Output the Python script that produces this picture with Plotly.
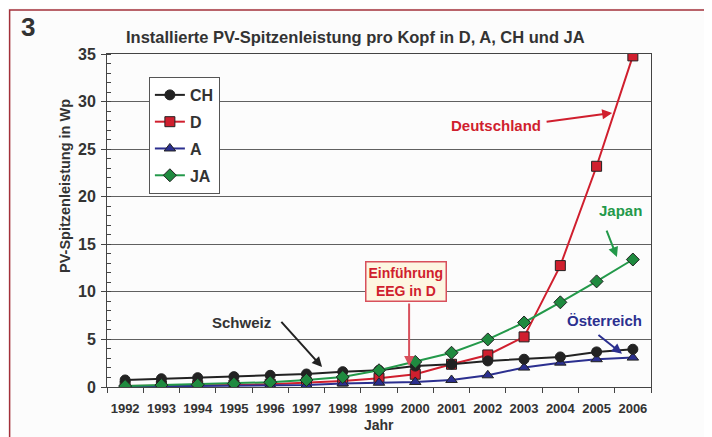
import plotly.graph_objects as go

# Installed PV peak power per capita (Wp)
years = [1992, 1993, 1994, 1995, 1996, 1997, 1998, 1999, 2000, 2001, 2002, 2003, 2004, 2005, 2006]
ch = [0.74, 0.87, 0.98, 1.09, 1.23, 1.37, 1.61, 1.76, 2.2, 2.4, 2.74, 2.92, 3.16, 3.69, 3.97]
de = [0.1, 0.12, 0.15, 0.2, 0.3, 0.46, 0.63, 0.92, 1.34, 2.39, 3.37, 5.27, 12.76, 23.2, 34.8]
at = [0.05, 0.07, 0.1, 0.12, 0.15, 0.2, 0.38, 0.45, 0.53, 0.74, 1.23, 2.04, 2.56, 2.92, 3.09]
ja = [0.1, 0.2, 0.24, 0.35, 0.5, 0.74, 1.05, 1.76, 2.64, 3.6, 5.0, 6.78, 8.9, 11.1, 13.4]

FONT = "Liberation Sans, Arial, sans-serif"
DARK = "#333333"
RED = "#d01f2e"
BLUE = "#2b2f8f"
GREEN = "#23994a"

series = [
    # name, values, line colour, marker fill, symbol, legend rank
    ("D", de, RED, RED, "square", 2),
    ("A", at, BLUE, BLUE, "triangle-up", 3),
    ("CH", ch, "#222222", "#222222", "circle", 1),
    ("JA", ja, GREEN, "#1f8a3f", "diamond", 4),
]

fig = go.Figure()
for name, vals, lc, mc, sym, rank in series:
    fig.add_trace(go.Scatter(
        x=years, y=vals, name=name, mode="lines+markers",
        line=dict(color=lc, width=2),
        marker=dict(symbol=sym, size=10, color=mc, line=dict(color="#222222", width=1)),
        legendrank=rank, legendgroup=name,
    ))

# the page body has an 8px margin, so the figure is 8px smaller on each side
fig.update_layout(
    width=704, height=429,
    margin=dict(l=99, r=61, t=46, b=50),
    paper_bgcolor="#fcfcfc", plot_bgcolor="#fcfcfc",
    font=dict(family=FONT, color=DARK, size=13),
    showlegend=True,
    legend=dict(
        x=0.077, y=0.931, xanchor="left", yanchor="top",
        bgcolor="white", bordercolor="#555555", borderwidth=1,
        font=dict(size=16, weight="bold", color=DARK),
        traceorder="grouped", tracegroupgap=3, itemwidth=30,
    ),
)

fig.update_xaxes(
    range=[1991.5, 2006.5], tickvals=years, ticktext=[str(y) for y in years],
    ticks="", showgrid=False, zeroline=False,
    showline=True, linecolor="#444444", mirror=True,
    tickfont=dict(size=13, weight="bold", color=DARK), ticklabelstandoff=9,
    minor=dict(tickmode="linear", tick0=1991.5, dtick=1, ticks="outside",
               ticklen=5, tickcolor="#444444", showgrid=False),
)
fig.update_yaxes(
    range=[0, 35], dtick=5, ticks="outside", ticklen=5, tickcolor="#444444",
    showgrid=True, gridcolor="#606060", gridwidth=1, zeroline=False,
    showline=True, linecolor="#444444", mirror=True,
    tickfont=dict(size=16, weight="bold", color=DARK), ticklabelstandoff=2,
    minor=dict(dtick=1, ticks="inside", ticklen=4, tickcolor="#444444", showgrid=False),
)

# outer frame
fig.add_shape(type="rect", xref="paper", yref="paper",
              x0=-0.179, x1=1.3, y0=-0.3, y1=1.132,
              line=dict(color="#a3303a", width=1.5), layer="below")

ann = [
    dict(text="3", x=-0.145, y=1.081, font=dict(size=26, weight="bold", color=DARK)),
    dict(text="Installierte PV-Spitzenleistung pro Kopf in D, A, CH und JA",
         x=0.456, y=1.051, font=dict(size=16.5, weight="bold", color=DARK)),
    dict(text="PV-Spitzenleistung in Wp", x=-0.077, y=0.604, textangle=-90,
         font=dict(size=14.5, weight="bold", color=DARK)),
    dict(text="Jahr", x=0.5, y=-0.114, font=dict(size=14, weight="bold", color=DARK)),
]
for a in ann:
    fig.add_annotation(xref="paper", yref="paper", showarrow=False,
                       xanchor="center", yanchor="middle", **a)

# labels inside the plot
labels = [
    ("Deutschland", 2002.22, 27.5, RED),
    ("Japan", 2005.67, 18.5, GREEN),
    ("Österreich", 2005.23, 7.0, BLUE),
    ("Schweiz", 1995.22, 6.83, DARK),
]
for txt, x, y, c in labels:
    fig.add_annotation(x=x, y=y, text=txt, showarrow=False,
                       font=dict(size=15, weight="bold", color=c))

fig.add_annotation(x=1999.75, y=11.05, text="Einführung<br>EEG in D", showarrow=False,
                   font=dict(size=14, weight="bold", color=RED),
                   bgcolor="#fdf6e1", bordercolor="#d8505c", borderwidth=1.5, borderpad=2)

# arrows: (tail x, tail y, head x, head y, colour)
arrows = [
    (2003.58, 27.85, 2005.43, 28.8, RED),
    (2005.26, 16.6, 2005.56, 13.66, GREEN),
    (2005.01, 5.6, 2005.7, 3.5, BLUE),
    (1996.27, 7.0, 1997.43, 2.1, "#222222"),
    (1999.83, 8.93, 1999.83, 2.2, "#d8505c"),
]
for tx, ty, hx, hy, c in arrows:
    fig.add_annotation(x=hx, y=hy, ax=tx, ay=ty, axref="x", ayref="y", text="",
                       showarrow=True, arrowhead=2, arrowsize=1, arrowwidth=2,
                       arrowcolor=c)

fig.write_html("out.html")
